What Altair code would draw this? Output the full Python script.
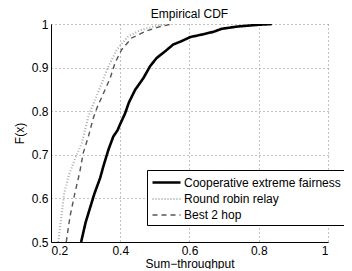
import altair as alt
import pandas as pd

# Cooperative extreme fairness (solid black)
coop_x = [0.287, 0.300, 0.325, 0.342, 0.351, 0.366, 0.380, 0.392, 0.399, 0.414, 0.425, 0.443, 0.467, 0.486, 0.505, 0.529, 0.553, 0.575, 0.602, 0.631, 0.669, 0.693, 0.737, 0.795, 0.838]
coop_y = [0.5, 0.545, 0.61, 0.647, 0.673, 0.712, 0.742, 0.756, 0.769, 0.795, 0.82, 0.849, 0.876, 0.903, 0.922, 0.937, 0.953, 0.96, 0.970, 0.975, 0.982, 0.989, 0.994, 0.998, 1.0]

# Round robin relay (dotted light gray)
rr_x = [0.221, 0.231, 0.238, 0.252, 0.269, 0.289, 0.308, 0.327, 0.347, 0.366, 0.390, 0.423, 0.462, 0.501, 0.534]
rr_y = [0.5, 0.566, 0.612, 0.654, 0.69, 0.727, 0.788, 0.826, 0.865, 0.903, 0.941, 0.972, 0.987, 0.995, 1.0]

# Best 2 hop (dashed dark gray)
b2_x = [0.244, 0.255, 0.269, 0.283, 0.293, 0.308, 0.322, 0.334, 0.356, 0.371, 0.385, 0.404, 0.433, 0.472, 0.510, 0.549]
b2_y = [0.5, 0.559, 0.612, 0.66, 0.704, 0.742, 0.784, 0.81, 0.849, 0.876, 0.911, 0.941, 0.968, 0.983, 0.993, 1.0]

series_names = ["Cooperative extreme fairness", "Round robin relay", "Best 2 hop"]
x_ticks = [0.2, 0.4, 0.6, 0.8, 1.0]
y_ticks = [0.5, 0.6, 0.7, 0.8, 0.9, 1.0]

rows = []
for name, xs, ys in zip(series_names, [coop_x, rr_x, b2_x], [coop_y, rr_y, b2_y]):
    for i, (a, b) in enumerate(zip(xs, ys)):
        rows.append({"series": name, "x": a, "y": b, "order": i})
df = pd.DataFrame(rows)

legend = alt.Legend(
    title=None,
    orient="none",
    legendX=96,
    legendY=146,
    strokeColor="black",
    fillColor="white",
    padding=4,
    symbolType="M-2,0H2",
    symbolSize=196,
    symbolOffset=7,
    labelFontSize=12,
    labelFont="Liberation Sans",
    labelColor="black",
    labelOffset=9,
    rowPadding=2,
)

chart = alt.Chart(df).mark_line(clip=True).encode(
    x=alt.X("x:Q", scale=alt.Scale(domain=[0.2, 1.0], nice=False),
            axis=alt.Axis(values=x_ticks, format="~g", title="Sum\u2212throughput",
                          labelPadding=3, titlePadding=2)),
    y=alt.Y("y:Q", scale=alt.Scale(domain=[0.5, 1.0], nice=False, zero=False),
            axis=alt.Axis(values=y_ticks, format="~g", title="F(x)",
                          labelPadding=3, titlePadding=5)),
    color=alt.Color("series:N", scale=alt.Scale(domain=series_names, range=["#000000", "#aaaaaa", "#555555"]), legend=legend),
    strokeDash=alt.StrokeDash("series:N", scale=alt.Scale(domain=series_names, range=[[1, 0], [1, 2], [5, 4]]), legend=legend),
    strokeWidth=alt.StrokeWidth("series:N", scale=alt.Scale(domain=series_names, range=[2.6, 1.4, 2.8]), legend=legend),
    order="order:Q",
).properties(
    width=277,
    height=218,
    title=alt.TitleParams("Empirical CDF", fontSize=12, font="Liberation Sans", fontWeight="normal",
                          color="black", offset=-3),
    autosize=alt.AutoSizeParams(type="none"),
    padding={"left": 43, "top": 16, "right": 16, "bottom": 27},
).configure_view(strokeWidth=0).configure_axis(
    labelFont="Liberation Sans",
    titleFont="Liberation Sans",
    labelFontSize=12,
    titleFontSize=12,
    titleFontWeight="normal",
    labelColor="black",
    titleColor="black",
    domainColor="black",
    domainWidth=1,
    ticks=False,
    gridColor="#888888",
    gridDash=[1, 3],
    gridWidth=1,
)

chart.save("out.html", embed_options={"renderer": "svg", "actions": False})
